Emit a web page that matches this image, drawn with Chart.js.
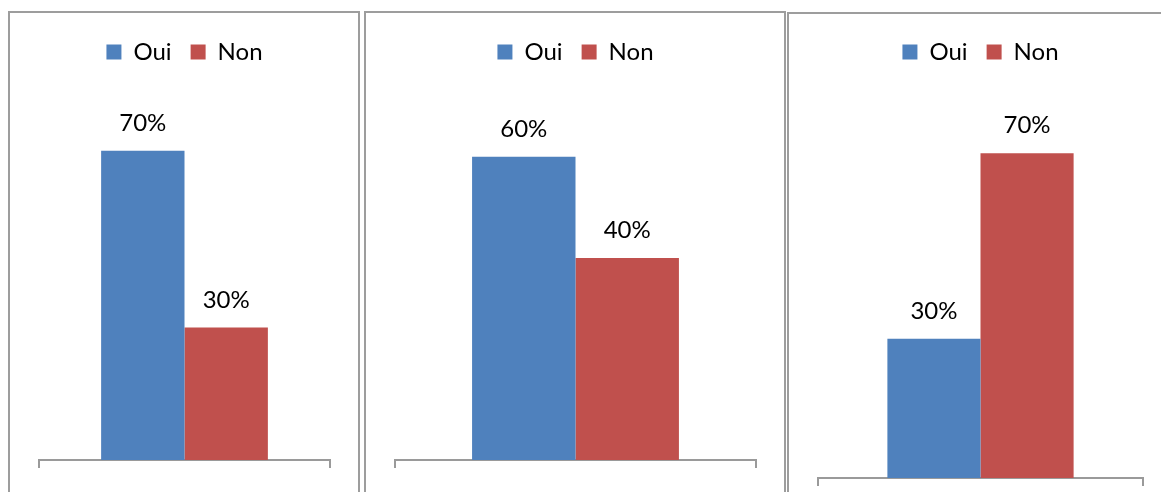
<!DOCTYPE html>
<html>
<head>
<meta charset="utf-8">
<script src="https://cdn.jsdelivr.net/npm/chart.js@4.4.1/dist/chart.umd.min.js"></script>
<style>
  html, body { margin: 0; padding: 0; background: #fff; overflow: hidden; }
  body { width: 1161px; height: 492px; position: relative; }
  .panel { position: absolute; box-sizing: border-box; border: 2px solid #9d9d9d; background: #fff; }
  canvas { position: absolute; }
</style>
</head>
<body>
<div class="panel" style="left:8px; top:11px; width:352px; height:500px;"></div>
<div class="panel" style="left:364px; top:11px; width:422px; height:500px;"></div>
<div class="panel" style="left:787px; top:12px; width:420px; height:500px;"></div>

<canvas id="chart1" width="350" height="479" style="left:9px; top:13px;"></canvas>
<canvas id="chart2" width="420" height="479" style="left:365px; top:13px;"></canvas>
<canvas id="chart3" width="372" height="479" style="left:789px; top:13px;"></canvas>

<script>
// answers per question, in percent
const seriesNames = ["Oui", "Non"];
const ouiValues = [70, 60, 30];
const nonValues = [30, 40, 70];
const categories = [""];

const BLUE = "#4f81bd";
const RED = "#c0504d";

Chart.defaults.font.family = "Lato, 'Open Sans', sans-serif";
Chart.defaults.font.size = 24;
Chart.defaults.color = "#000";

// writes "NN%" above every bar
const valueLabels = {
    id: "valueLabels",
    afterDatasetsDraw(chart) {
        const ctx = chart.ctx;
        ctx.save();
        ctx.font = "24px Lato, 'Open Sans', sans-serif";
        ctx.fillStyle = "#000";
        ctx.textAlign = "center";
        ctx.textBaseline = "alphabetic";
        chart.data.datasets.forEach((ds, i) => {
            chart.getDatasetMeta(i).data.forEach((bar, j) => {
                ctx.fillText(ds.data[j] + "%", bar.x, bar.y - 20);
            });
        });
        ctx.restore();
    },
};

const makeChart = (id, idx, yMax, padding) => {
    return new Chart(document.getElementById(id).getContext("2d"), {
        type: "bar",
        data: {
            labels: categories,
            datasets: [
                {
                    label: seriesNames[0],
                    data: [ouiValues[idx]],
                    backgroundColor: BLUE,
                },
                {
                    label: seriesNames[1],
                    data: [nonValues[idx]],
                    backgroundColor: RED,
                },
            ],
        },
        options: {
            responsive: false,
            animation: false,
            devicePixelRatio: 1,
            categoryPercentage: 0.573,
            barPercentage: 1,
            layout: { padding },
            plugins: {
                legend: {
                    position: "top",
                    labels: {
                        boxWidth: 15,
                        boxHeight: 15,
                        padding: 19,
                        color: "#000",
                        font: { size: 24 },
                    },
                },
                tooltip: { enabled: false },
            },
            scales: {
                x: {
                    grid: {
                        drawOnChartArea: false,
                        drawTicks: true,
                        tickLength: 8,
                        color: "#9a9a9a",
                        lineWidth: 2,
                    },
                    border: { color: "#9a9a9a", width: 2 },
                    ticks: { display: false },
                },
                y: {
                    display: false,
                    min: 0,
                    max: yMax,
                },
            },
        },
        plugins: [valueLabels],
    });
};

makeChart("chart1", 0, 87.4, { top: 8, left: 30, right: 29, bottom: 24 });
makeChart("chart2", 1, 76.4, { top: 8, left: 30, right: 29, bottom: 24 });
makeChart("chart3", 2, 87.1, { top: 8, left: 29, right: 18, bottom: 6 });
</script>
</body>
</html>
